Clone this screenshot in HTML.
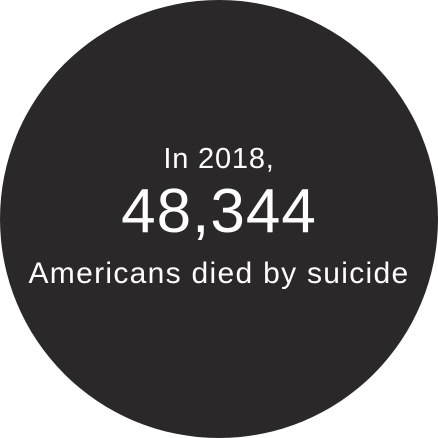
<!DOCTYPE html>
<html><head><meta charset="utf-8">
<style>
html,body{margin:0;padding:0;width:438px;height:438px;background:#fff;overflow:hidden}
.c{position:absolute;left:0;top:0;width:438px;height:438px;border-radius:50%;background:#2a2828}
.t{position:absolute;left:0;width:438px;text-align:center;color:#fff;font-family:"Liberation Sans",sans-serif;font-weight:normal;white-space:nowrap}
</style></head>
<body>
<div class="c"></div>
<div class="t" style="top:143px;font-size:29px;letter-spacing:0.8px;">In 2018,</div>
<div class="t" style="top:176px;font-size:62px;letter-spacing:1px;">48,344</div>
<div class="t" style="top:257px;font-size:30px;letter-spacing:1.3px;">Americans died by suicide</div>
</body></html>
